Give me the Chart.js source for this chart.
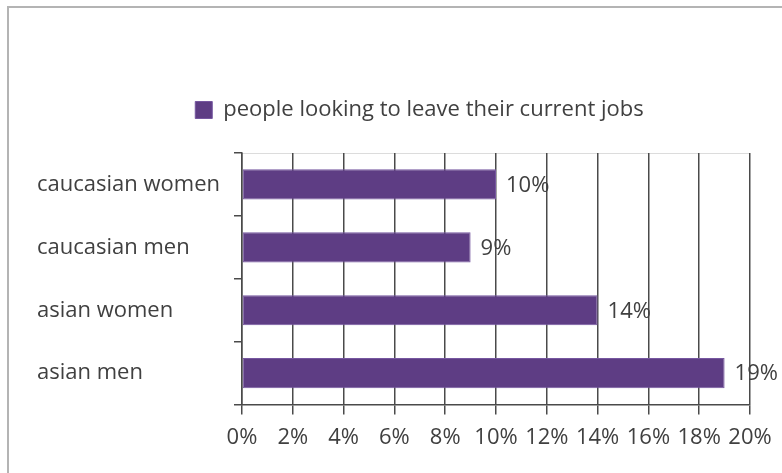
<!DOCTYPE html>
<html>
<head>
<meta charset="utf-8">
<script src="https://cdn.jsdelivr.net/npm/chart.js@4.4.1/dist/chart.umd.min.js"></script>
<style>
  html, body { margin: 0; padding: 0; background: #fff; }
</style>
</head>
<body>
<canvas id="jobsChart" width="782" height="473"></canvas>
<script>
const categories = ["caucasian women", "caucasian men", "asian women", "asian men"];
const leavingShare = [10, 9, 14, 19];
const seriesLabel = "people looking to leave their current jobs";
const xTickStep = 2;
const xMax = 20;

const textColor = "#404040";
const barColor = "#5e3d84";
const fontFamily = "'Open Sans', sans-serif";
const fontSize = 22;

// outer frame + light top edge of the plot area
const framePlugin = {
  id: "frame",
  beforeDraw(chart) {
    const c = chart.ctx;
    const a = chart.chartArea;
    c.save();
    c.strokeStyle = "#b4b4b4";
    c.lineWidth = 2;
    c.beginPath();
    c.moveTo(8, chart.height);
    c.lineTo(8, 7);
    c.lineTo(chart.width, 7);
    c.stroke();
    c.strokeStyle = "#dcdcdc";
    c.lineWidth = 1;
    c.beginPath();
    c.moveTo(a.left, a.top + 0.5);
    c.lineTo(a.right, a.top + 0.5);
    c.stroke();
    c.restore();
  },
};

// value labels at the end of each bar
const valueLabels = {
  id: "valueLabels",
  afterDatasetsDraw(chart) {
    const c = chart.ctx;
    const meta = chart.getDatasetMeta(0);
    c.save();
    c.fillStyle = textColor;
    c.font = fontSize + "px " + fontFamily;
    c.textAlign = "left";
    c.textBaseline = "middle";
    meta.data.forEach((bar, i) => {
      c.fillText(leavingShare[i] + "%", bar.x + 10, bar.y + 1);
    });
    c.restore();
  },
};

// legend: a bit right of centre, with more room under it
const legendTweak = {
  id: "legendTweak",
  beforeLayout(chart) {
    const lg = chart.legend;
    if (lg && !lg._tweaked) {
      const fit = lg.fit.bind(lg);
      lg.fit = function () {
        fit();
        this.height += 22;
      };
      lg._tweaked = true;
    }
  },
  afterLayout(chart) {
    chart.legend.left += 26;
    chart.legend.right += 26;
  },
};

const jobsChart = new Chart(document.getElementById("jobsChart"), {
  type: "bar",
  data: {
    labels: categories,
    datasets: [
      {
        label: seriesLabel,
        data: leavingShare,
        backgroundColor: barColor,
        borderColor: "#7657a0",
        borderWidth: 1,
        borderSkipped: false,
        barPercentage: 0.48,
        categoryPercentage: 1,
      },
    ],
  },
  options: {
    indexAxis: "y",
    responsive: false,
    animation: false,
    layout: { padding: { left: 37, right: 32, top: 67, bottom: 12 } },
    plugins: {
      legend: {
        position: "top",
        labels: {
          color: textColor,
          font: { family: fontFamily, size: fontSize },
          boxWidth: 17,
          boxHeight: 17,
          padding: 32,
        },
      },
      tooltip: { enabled: false },
    },
    scales: {
      x: {
        min: 0,
        max: xMax,
        ticks: {
          stepSize: xTickStep,
          callback: (v) => v + "%",
          color: textColor,
          font: { family: fontFamily, size: fontSize },
          padding: 10,
          maxRotation: 0,
        },
        grid: { color: "#4a4a4a", lineWidth: 1.5, tickLength: 10 },
        border: { color: "#4a4a4a", width: 1.5 },
      },
      y: {
        ticks: {
          color: textColor,
          font: { family: fontFamily, size: fontSize },
          crossAlign: "far",
        },
        grid: {
          drawOnChartArea: false,
          offset: true,
          tickLength: 8,
          color: "#4a4a4a",
          lineWidth: 1.5,
        },
        border: { color: "#4a4a4a", width: 1.5 },
        afterFit(scale) {
          scale.width = 205;
        },
      },
    },
  },
  plugins: [framePlugin, valueLabels, legendTweak],
});
</script>
</body>
</html>
